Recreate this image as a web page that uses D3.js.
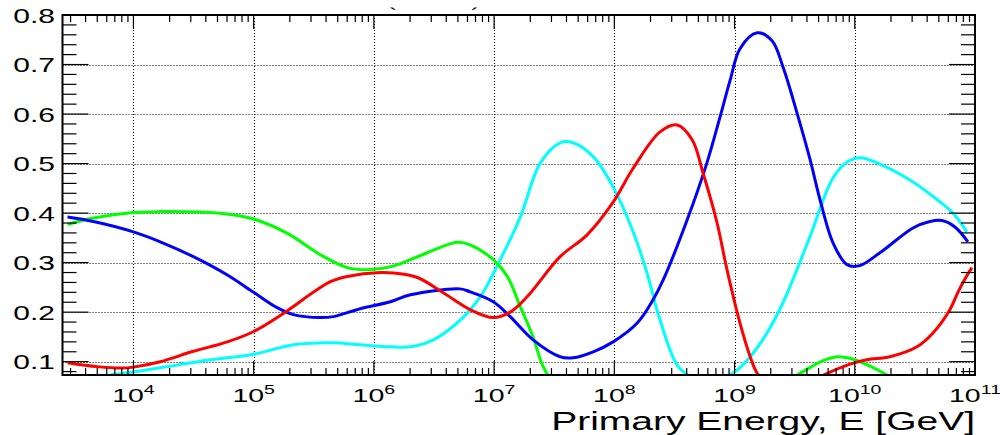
<!DOCTYPE html>
<html>
<head>
<meta charset="utf-8">
<script src="https://cdn.jsdelivr.net/npm/d3@7"></script>
<style>
  html, body { margin: 0; padding: 0; background: #ffffff; }
  svg { display: block; }
</style>
</head>
<body>
<svg id="chart" width="1000" height="435"></svg>
<script>
// ---- data -------------------------------------------------------------
// energy range of the horizontal axis [GeV]
const energyRange = [2.57e3, 1e11];
// vertical range (fraction)
const fractionRange = [0.0731, 0.8];

// decade exponents labelled on the energy axis
const decadeExponents = [4, 5, 6, 7, 8, 9, 10, 11];
// labelled fraction values
const yTickValues = [0.1, 0.2, 0.3, 0.4, 0.5, 0.6, 0.7, 0.8];
const yTickLabels = ["0.1", "0.2", "0.3", "0.4", "0.5", "0.6", "0.7", "0.8"];

const axisTitle = "Primary Energy, E [GeV]";

// [energy in GeV, fraction]
const blueSeries = [
  [2.83e3, 0.392], [4.65e3, 0.383], [1.0e4, 0.362], [1.67e4, 0.342], [3.15e4, 0.312],
  [6.04e4, 0.275], [1.0e5, 0.240], [1.57e5, 0.209], [2.14e5, 0.195], [3.58e5, 0.189],
  [4.6e5, 0.191], [7.7e5, 0.207], [1.37e6, 0.221], [2.01e6, 0.235], [5.22e6, 0.247],
  [6.32e6, 0.241], [9.84e6, 0.221], [1.36e7, 0.191], [2.11e7, 0.144], [3.54e7, 0.110],
  [4.55e7, 0.108], [6.67e7, 0.120], [9.77e7, 0.140], [1.55e8, 0.178], [2.1e8, 0.225],
  [2.55e8, 0.265], [4.03e8, 0.386], [5.9e8, 0.502], [7.57e8, 0.594], [9.18e8, 0.668],
  [1.11e9, 0.732], [1.54e9, 0.764], [2.05e9, 0.748], [2.53e9, 0.695], [3.31e9, 0.602],
  [4.25e9, 0.508], [5.14e9, 0.427], [6.59e9, 0.340], [8.61e9, 0.296], [1.1e10, 0.294],
  [1.62e10, 0.320], [3.05e10, 0.370], [4.22e10, 0.383], [5.31e10, 0.385], [6.81e10, 0.372],
  [8.73e10, 0.342]
];

const redSeries = [
  [2.83e3, 0.098], [5.01e3, 0.090], [7.94e3, 0.087], [1.0e4, 0.089], [1.67e4, 0.100],
  [3.15e4, 0.121], [6.04e4, 0.140], [1.0e5, 0.161], [1.91e5, 0.203], [3.13e5, 0.240],
  [4.4e5, 0.262], [6.01e5, 0.272], [1.13e6, 0.280], [1.45e6, 0.279], [2.3e6, 0.270],
  [3.78e6, 0.239], [6.32e6, 0.205], [9.84e6, 0.189], [1.36e7, 0.200], [1.88e7, 0.231],
  [3.54e7, 0.312], [5.94e7, 0.356], [9.77e7, 0.422], [1.43e8, 0.490], [2.4e8, 0.564],
  [3.33e8, 0.578], [4.44e8, 0.548], [5.47e8, 0.481], [7.14e8, 0.381], [8.65e8, 0.286],
  [1.11e9, 0.178], [1.35e9, 0.110], [1.54e9, 0.077], [2.0e9, 0.050], [3.16e9, 0.040],
  [5.01e9, 0.068], [9.12e9, 0.095], [1.26e10, 0.104], [1.96e10, 0.110], [3.29e10, 0.130],
  [4.47e10, 0.158], [6.18e10, 0.205], [7.21e10, 0.240], [8.2e10, 0.266], [9.42e10, 0.290]
];

const greenSeries = [
  [2.83e3, 0.377], [4.65e3, 0.390], [1.0e4, 0.401], [1.67e4, 0.403], [3.61e4, 0.402],
  [6.04e4, 0.398], [1.0e5, 0.388], [1.91e5, 0.359], [3.58e5, 0.316], [6.01e5, 0.290],
  [9.33e5, 0.286], [1.45e6, 0.293], [2.78e6, 0.320], [4.93e6, 0.341], [6.32e6, 0.336],
  [9.84e6, 0.306], [1.29e7, 0.272], [1.65e7, 0.211], [2.11e7, 0.150], [2.56e7, 0.090],
  [3.35e7, 0.050], [6.0e7, 0.030], [3.0e8, 0.020], [1.0e9, 0.020], [2.0e9, 0.045],
  [3.31e9, 0.073], [5.45e9, 0.102], [7.11e9, 0.110], [9.12e9, 0.107], [1.26e10, 0.094],
  [1.85e10, 0.073], [2.51e10, 0.050], [5.0e10, 0.020]
];

const cyanSeries = [
  [2.83e3, 0.055], [6.44e3, 0.073], [1.0e4, 0.079], [1.92e4, 0.090], [3.61e4, 0.101],
  [1.0e5, 0.115], [2.14e5, 0.134], [4.6e5, 0.138], [7.7e5, 0.134], [1.37e6, 0.130],
  [2.01e6, 0.130], [3.12e6, 0.144], [5.22e6, 0.184], [7.66e6, 0.231], [1.12e7, 0.305],
  [1.65e7, 0.392], [2.42e7, 0.501], [3.54e7, 0.542], [4.55e7, 0.542], [6.67e7, 0.514],
  [9.77e7, 0.453], [1.43e8, 0.363], [1.87e8, 0.279], [2.4e8, 0.184], [3.33e8, 0.093],
  [4.1e8, 0.073], [6.0e8, 0.058], [9.73e8, 0.077], [1.35e9, 0.110], [1.86e9, 0.158],
  [2.53e9, 0.219], [3.06e9, 0.266], [4.25e9, 0.353], [6.59e9, 0.471], [8.77e9, 0.504],
  [1.1e10, 0.512], [1.62e10, 0.499], [3.05e10, 0.463], [5.1e10, 0.423], [6.55e10, 0.400],
  [8.57e10, 0.362]
];

// ---- layout ----------------------------------------------------------
const frame = { left: 62.5, right: 975, top: 15, bottom: 375 };
const stretch = 1.5;                 // horizontal text stretch
const fontFamily = "'Liberation Sans', Arial, Helvetica, sans-serif";

const svg = d3.select("#chart");

const x = d3.scaleLog().domain(energyRange).range([frame.left, frame.right]);
const y = d3.scaleLinear().domain(fractionRange).range([frame.bottom, frame.top]);

// clip region for the curves
svg.append("defs").append("clipPath").attr("id", "plot-clip")
  .append("rect")
  .attr("x", frame.left).attr("y", frame.top)
  .attr("width", frame.right - frame.left)
  .attr("height", frame.bottom - frame.top);

// ---- grid -------------------------------------------------------------
const grid = svg.append("g")
  .attr("stroke", "#000").attr("stroke-width", 1)
  .attr("stroke-dasharray", "1,2").attr("fill", "none");

const gridDecades = decadeExponents.map(e => Math.pow(10, e))
  .filter(v => x(v) < frame.right - 1);
grid.selectAll("line.vx").data(gridDecades).join("line")
  .attr("x1", d => Math.round(x(d)) + 0.5).attr("x2", d => Math.round(x(d)) + 0.5)
  .attr("y1", frame.top).attr("y2", frame.bottom);

const gridFractions = yTickValues.filter(v => y(v) > frame.top + 1);
grid.selectAll("line.hy").data(gridFractions).join("line")
  .attr("y1", d => Math.round(y(d)) + 0.5).attr("y2", d => Math.round(y(d)) + 0.5)
  .attr("x1", frame.left).attr("x2", frame.right);

// ---- curves -----------------------------------------------------------
const line = d3.line()
  .x(d => x(d[0]))
  .y(d => y(d[1]))
  .curve(d3.curveCatmullRom.alpha(0.5));

const curves = [
  { data: cyanSeries,  color: "#00ffff" },
  { data: greenSeries, color: "#00ff00" },
  { data: blueSeries,  color: "#0000ff" },
  { data: redSeries,   color: "#ff0000" }
];

const curveLayer = svg.append("g").attr("clip-path", "url(#plot-clip)");
curveLayer.selectAll("path").data(curves).join("path")
  .attr("d", d => line(d.data))
  .attr("fill", "none")
  .attr("stroke", d => d.color)
  .attr("stroke-width", 3)
  .attr("stroke-linejoin", "round");

// ---- ticks ------------------------------------------------------------
const ticks = svg.append("g").attr("stroke", "#000").attr("stroke-width", 1.2);

// energy axis: decades (major) and 2..9 multiples (minor), bottom and top
const majorE = decadeExponents.map(e => Math.pow(10, e));
const minorE = [];
for (let e = 3; e <= 10; e++) {
  for (let k = 2; k <= 9; k++) {
    const v = k * Math.pow(10, e);
    if (v > energyRange[0] && v < energyRange[1]) minorE.push(v);
  }
}
const xTicks = majorE.map(v => ({ v, len: 14 })).concat(minorE.map(v => ({ v, len: 7 })));
ticks.selectAll("line.xb").data(xTicks).join("line")
  .attr("x1", d => x(d.v)).attr("x2", d => x(d.v))
  .attr("y1", frame.bottom).attr("y2", d => frame.bottom - d.len);
ticks.selectAll("line.xt").data(xTicks).join("line")
  .attr("x1", d => x(d.v)).attr("x2", d => x(d.v))
  .attr("y1", frame.top).attr("y2", d => frame.top + d.len);

// fraction axis: 0.1 major, 0.02 minor, left and right
const yTicks = [];
for (let i = 4; i <= 40; i++) {
  const v = i * 0.02;
  if (v >= fractionRange[0] && v <= fractionRange[1] + 1e-9) {
    yTicks.push({ v, len: (i % 5 === 0) ? 26 : 14 });
  }
}
ticks.selectAll("line.yl").data(yTicks).join("line")
  .attr("y1", d => y(d.v)).attr("y2", d => y(d.v))
  .attr("x1", frame.left).attr("x2", d => frame.left + d.len);
ticks.selectAll("line.yr").data(yTicks).join("line")
  .attr("y1", d => y(d.v)).attr("y2", d => y(d.v))
  .attr("x1", frame.right).attr("x2", d => frame.right - d.len);

// ---- frame ------------------------------------------------------------
svg.append("rect")
  .attr("x", frame.left).attr("y", frame.top)
  .attr("width", frame.right - frame.left)
  .attr("height", frame.bottom - frame.top)
  .attr("fill", "none").attr("stroke", "#000").attr("stroke-width", 2);

// ---- labels -----------------------------------------------------------
const labels = svg.append("g").attr("font-family", fontFamily).attr("fill", "#000");

// fraction labels
labels.selectAll("text.ylab").data(yTickValues).join("text")
  .attr("transform", d => `translate(55,${y(d) + 7.5}) scale(${stretch},1)`)
  .attr("text-anchor", "end")
  .attr("font-size", 20)
  .text((d, i) => yTickLabels[i]);

// energy labels 10^n
const xLab = labels.selectAll("text.xlab").data(decadeExponents).join("text")
  .attr("transform", d => `translate(${x(Math.pow(10, d))},401.5) scale(${stretch},1)`)
  .attr("text-anchor", "middle")
  .attr("font-size", 19);
xLab.append("tspan").text("10");
xLab.append("tspan").attr("dy", -8).attr("font-size", 13).text(d => d);

// axis title
labels.append("text")
  .attr("transform", `translate(${frame.right},430) scale(${stretch},1)`)
  .attr("text-anchor", "end")
  .attr("font-size", 26)
  .text(axisTitle);

// remnants of the heading above the frame
labels.append("text")
  .attr("transform", `translate(393,20) scale(${stretch},1)`)
  .attr("text-anchor", "middle").attr("font-size", 16)
  .text("`");
labels.append("text")
  .attr("transform", `translate(475,20) scale(${stretch},1)`)
  .attr("text-anchor", "middle").attr("font-size", 16)
  .text("´");
</script>
</body>
</html>
